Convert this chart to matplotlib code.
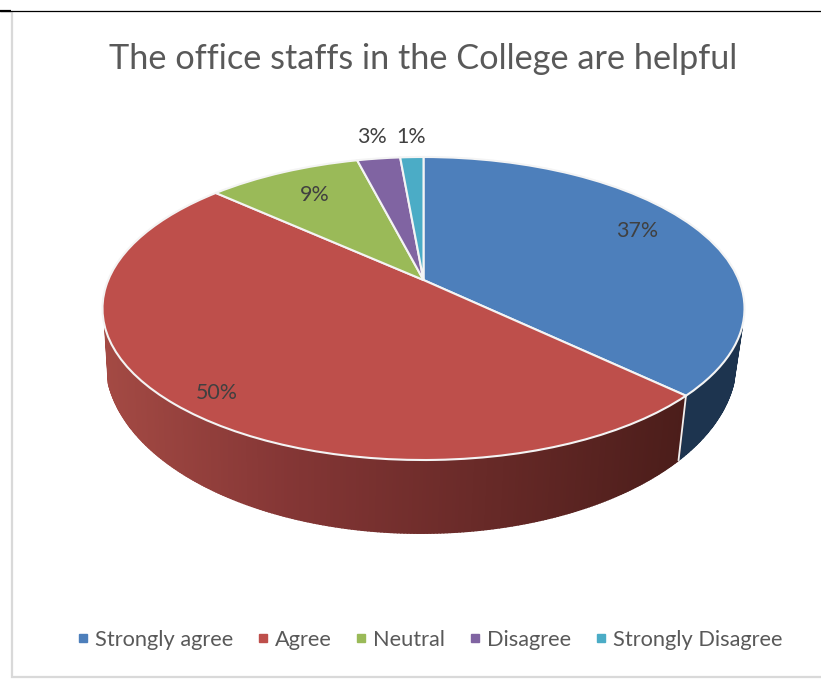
import numpy as np
import matplotlib
matplotlib.use("Agg")
import matplotlib.pyplot as plt
from matplotlib.collections import PolyCollection
from matplotlib.lines import Line2D
from matplotlib.transforms import Affine2D, Transform

plt.rcParams['font.family'] = ['Lato', 'DejaVu Sans']

title = "The office staffs in the College are helpful"
categories = ["Strongly agree", "Agree", "Neutral", "Disagree", "Strongly Disagree"]
values = [37.1, 49.6, 9.3, 2.6, 1.4]
colors = ["#4D7FBB", "#BE4F4B", "#9ABA58", "#8064A2", "#4BACC6"]

W, H = 821, 691
K = 0.188                      # perspective shift of the pie centre
TOP = (423.5, 308.5, 321.0, 151.5)
BOT = (421.0, 361.0, 315.0, 172.0)


class Perspective(Transform):
    input_dims = 2
    output_dims = 2
    is_affine = False
    has_inverse = False

    def __init__(self, k):
        super().__init__()
        self.k = k

    def transform_non_affine(self, xy):
        xy = np.asarray(xy, float)
        d = 1 + self.k * xy[:, 1]
        return np.column_stack([xy[:, 0] * np.sqrt(1 - self.k ** 2) / d,
                                (xy[:, 1] + self.k) / d])


persp = Perspective(K)

fig = plt.figure(figsize=(W / 100, H / 100), dpi=100)
ax = fig.add_axes([0, 0, 1, 1])


def rim(theta_deg):
    t = np.radians(theta_deg)
    return persp.transform_non_affine(np.column_stack([np.sin(t), np.cos(t)]))


def place(uv, e):
    return np.column_stack([e[0] + e[2] * uv[:, 0], e[1] - e[3] * uv[:, 1]])


def red_shade(x):
    f = np.clip((x - 105) / (680 - 105), 0, 1)
    a = np.array([0xA4, 0x4A, 0x44]) / 255
    m = np.array([0x84, 0x36, 0x35]) / 255
    b = np.array([0x4B, 0x1D, 0x1A]) / 255
    if f < 0.32:
        return a + (m - a) * f / 0.32
    return m + (b - m) * (f - 0.32) / 0.68


# side wall, drawn as thin strips following the rim
edges = np.cumsum([0] + values) * 3.6
polys, cols = [], []
for i in (0, 1):
    th = np.arange(edges[i], edges[i + 1] + 0.01, 0.5)
    uv = rim(th)
    keep = uv[:, 1] <= -0.12
    top, bot = place(uv[keep], TOP), place(uv[keep], BOT)
    for j in range(len(top) - 1):
        polys.append([top[j], top[j + 1], bot[j + 1], bot[j]])
        mid = 0.5 * (bot[j, 0] + bot[j + 1, 0])
        cols.append("#1D344F" if i == 0 else red_shade(mid))
ax.add_collection(PolyCollection(polys, facecolors=cols, edgecolors=cols, linewidths=1.4,
                                 joinstyle='round', zorder=1))

# white seam between the two visible wall parts
seam_uv = rim(np.array([edges[1]]))
seam_top, seam_bot = place(seam_uv, TOP)[0], place(seam_uv, BOT)[0]
ax.plot([seam_top[0], seam_bot[0]], [seam_top[1], seam_bot[1]], color="#F0F0F0", lw=1.3, zorder=2)

# top face
wedges, _ = ax.pie(values, colors=colors, startangle=90, counterclock=False, radius=1,
                   wedgeprops=dict(edgecolor="#F4F4F4", linewidth=1.5))
top_tf = persp + Affine2D().scale(TOP[2], -TOP[3]).translate(TOP[0], TOP[1]) + ax.transData
for w in wedges:
    w.set_transform(top_tf)
    w.set_zorder(3)
    w.set_clip_on(False)

ax.set_aspect('auto')
ax.set_xlim(0, W)
ax.set_ylim(H, 0)
ax.axis('off')

# value labels
label_pos = [(637, 231), (217, 393), (315, 195), (372, 137), (411, 137)]
for v, (x, y) in zip(values, label_pos):
    ax.text(x, y, f"{v:.0f}%", ha='center', va='center', fontsize=15.4, color="#404040", zorder=5)

ax.text(423, 58.5, title, ha='center', va='center', fontsize=24.7, color="#595959")

# frame
ax.plot([0, W], [11, 11], color="black", lw=0.9, zorder=6, solid_capstyle='butt')
ax.plot([0, 11], [11.3, 11.3], color="black", lw=1.6, zorder=6, solid_capstyle='butt')
ax.plot([12, 12, W], [12, 677, 677], color="#D9D9D9", lw=1.6, zorder=4, solid_joinstyle='miter')

handles = [Line2D([], [], linestyle='none', marker='s', markersize=5.6, color=c) for c in colors]
leg = ax.legend(handles, categories, ncol=5, loc='center', bbox_to_anchor=(430 / W, 1 - 639.5 / H),
                frameon=False, fontsize=15.7, labelcolor="#595959", handlelength=0.5,
                handletextpad=0.3, columnspacing=1.12, borderpad=0, borderaxespad=0)

fig.savefig("out.png", dpi=100)
